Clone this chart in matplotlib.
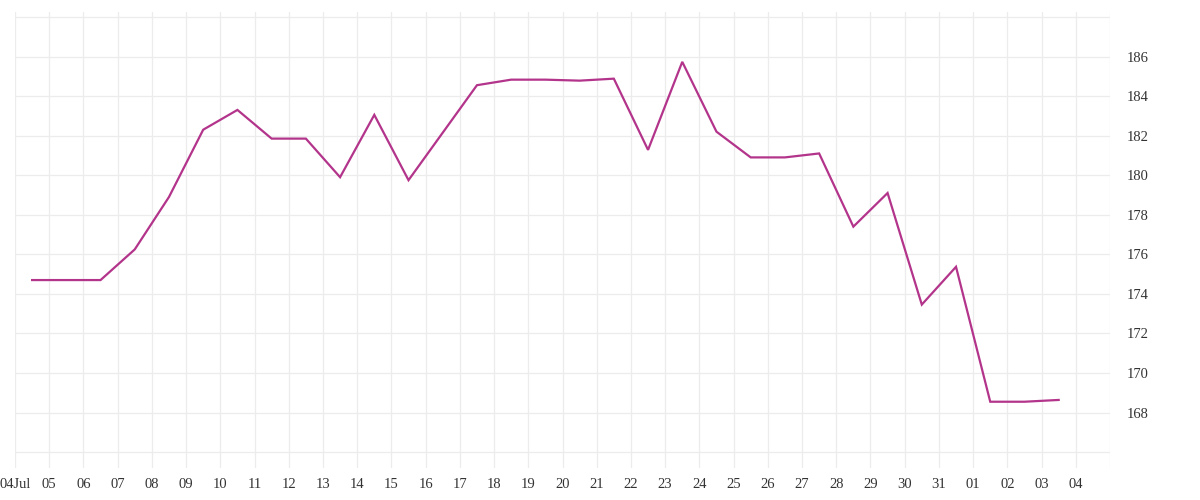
import numpy as np
import pandas as pd
import matplotlib
matplotlib.use("Agg")
import matplotlib.pyplot as plt
import matplotlib.dates as mdates
from matplotlib.ticker import FuncFormatter

# daily values, sampled at midday
dates = pd.date_range("2023-07-04 12:00", "2023-08-03 12:00", freq="D")
values = [174.7, 174.7, 174.7, 176.25, 178.9, 182.3, 183.3, 181.85, 181.85, 179.9,
          183.05, 179.75, 182.15, 184.55, 184.83, 184.83, 184.78, 184.88, 181.28, 185.73,
          182.2, 180.9, 180.9, 181.1, 177.4, 179.1, 173.46, 175.37, 168.55, 168.55,
          168.64]

line_color = "#b3348b"
grid_color = "#ececec"
font = ["Liberation Serif", "DejaVu Serif"]

fig = plt.figure(figsize=(12, 5), dpi=100)
ax = fig.add_axes([0.0125, 0.064, 0.9125, 0.912])

ax.plot(dates, values, color=line_color, linewidth=1.6, solid_joinstyle="miter")

ax.set_xlim(pd.Timestamp("2023-07-04"), pd.Timestamp("2023-08-05"))
ax.set_ylim(165.2, 188.25)

ax.xaxis.set_major_locator(mdates.DayLocator())

def fmt_date(x, pos):
    d = mdates.num2date(x)
    if d.month == 7 and d.day == 4:
        return "04Jul"
    if d.month == 8 and d.day == 5:
        return ""
    return d.strftime("%d")

ax.xaxis.set_major_formatter(FuncFormatter(fmt_date))

yticks = np.arange(166, 189, 2)
ax.set_yticks(yticks)
ax.set_yticklabels(["" if v in (166, 188) else str(v) for v in yticks])
ax.yaxis.tick_right()

for s in ax.spines.values():
    s.set_visible(False)
ax.tick_params(axis="both", length=0, colors="#333333", labelsize=10.5)
ax.tick_params(axis="y", pad=12)
ax.tick_params(axis="x", pad=7)
for lab in ax.get_xticklabels() + ax.get_yticklabels():
    lab.set_family(font)

ax.grid(True, color=grid_color, linewidth=0.9)
ax.set_axisbelow(True)

fig.savefig("out.png", dpi=100)
